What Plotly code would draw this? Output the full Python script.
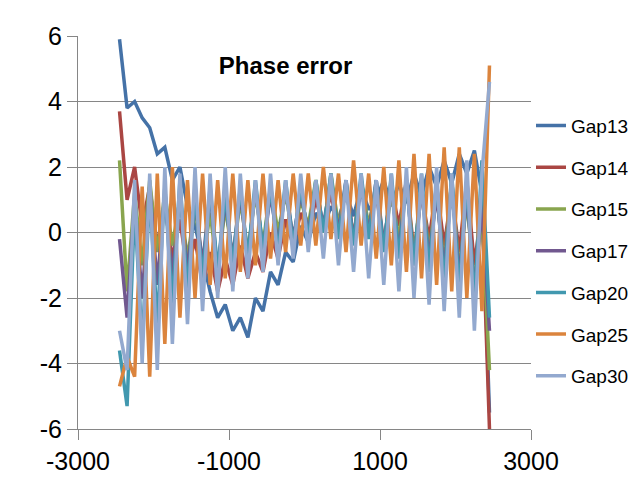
import plotly.graph_objects as go

x = [-2450 + 100 * i for i in range(50)]

gap13 = [5.9, 3.8, 4.0, 3.5, 3.2, 2.4, 2.6, 1.6, 2.0, 0.8, 0.2, -0.8, -1.8, -2.6, -2.2, -3.0, -2.6, -3.2, -2.0, -2.4,
         -1.2, -1.6, -0.6, -0.9, 0.2, -0.3, 0.6, 0.1, 0.8, 0.4, 1.2, 0.5, 1.4, 0.7, 1.0, 1.6, 0.8, 1.5, 0.9, 1.8,
         1.1, 2.0, 1.4, 2.2, 1.5, 2.4, 1.8, 2.5, 1.2, -5.5]
gap14 = [3.7, 1.0, 2.0, 0.2, 1.4, -0.4, 0.8, -0.8, 0.4, -1.2, -0.2, -1.6, -0.6, -1.8, -0.8, -1.6, -0.4, -1.4, -0.6, -1.2,
         0.0, -0.8, 0.4, -0.4, 0.6, 0.0, 1.0, 0.2, 1.2, 0.0, 1.4, -0.2, 1.6, 0.0, 1.2, -0.4, 1.4, 0.2, 1.6, -0.6,
         1.2, -0.2, 1.4, -0.4, 1.2, -0.6, 1.6, -1.0, 0.8, -6.0]
gap15 = [2.2, -1.8, 1.2, -1.0, 1.6, -0.6, 1.2, -0.4, 1.0, -0.8, 0.8, -1.0, 0.6, -1.2, 0.8, -0.8, 1.0, -0.6, 1.2, -0.4,
         1.4, 0.0, 1.2, -0.2, 1.0, 0.2, 1.6, 0.0, 1.8, 0.2, 1.4, -0.2, 1.6, 0.2, 1.4, -0.4, 1.2, -0.2, 1.6, -0.8,
         1.4, -0.6, 1.2, -1.0, 1.6, -1.2, 1.0, -1.6, 0.6, -4.2]
gap17 = [-0.2, -2.6, 1.0, -2.0, 1.4, -1.6, 1.2, -1.4, 1.2, -1.2, 1.0, -1.0, 1.2, -1.2, 1.0, -0.8, 1.2, -0.8, 1.4, -0.6,
         1.2, -0.4, 1.4, -0.2, 1.2, 0.0, 1.4, 0.2, 1.6, 0.0, 1.6, -0.2, 1.4, 0.0, 1.6, -0.4, 1.4, -0.6, 1.6, -1.0,
         1.4, -0.8, 1.2, -1.2, 1.6, -1.4, 1.2, -1.8, 0.8, -3.0]
gap20 = [-3.6, -5.3, 0.8, -3.4, 1.2, -2.8, 1.4, -2.2, 1.6, -1.8, 1.2, -1.4, 1.4, -1.2, 1.2, -1.0, 1.4, -0.8, 1.6, -0.6,
         1.4, -0.6, 1.6, -0.4, 1.4, -0.2, 1.6, 0.0, 1.8, -0.2, 1.6, -0.4, 1.8, -0.2, 1.6, -0.6, 1.8, -0.8, 1.6, -1.0,
         1.8, -1.2, 1.6, -1.6, 1.8, -1.8, 1.6, -2.2, 2.2, -2.6]
gap25 = [-4.7, -3.8, -4.4, 1.4, -4.4, 1.8, -3.4, 2.0, -2.6, 1.6, -2.0, 1.8, -1.6, 1.6, -1.4, 1.8, -1.2, 1.6, -1.0, 1.8,
         -0.8, 1.6, -0.6, 1.8, -0.4, 1.8, -0.4, 2.0, -0.2, 1.8, -0.6, 2.2, -0.4, 1.8, -0.8, 2.0, -1.0, 2.2, -1.2, 2.4,
         -1.4, 2.4, -1.6, 2.6, -1.8, 2.6, -2.0, 2.4, -2.4, 5.1]
gap30 = [-3.0, -4.2, 1.6, -4.0, 1.8, -4.2, 2.0, -3.4, 1.8, -2.8, 2.0, -2.4, 1.8, -2.0, 2.0, -1.8, 1.8, -1.4, 1.6, -1.2,
         1.8, -1.0, 1.6, -0.8, 1.8, -0.6, 1.6, -0.8, 1.8, -1.0, 1.6, -1.2, 1.8, -1.4, 1.6, -1.6, 1.8, -1.8, 2.0, -2.0,
         1.8, -2.2, 2.0, -2.4, 1.8, -2.6, 2.2, -3.0, 1.8, 4.6]

x_ticks = [-3000, -1000, 1000, 3000]
x_tick_text = ["-3000", "-1000", "1000", "3000"]
y_ticks = [-6, -4, -2, 0, 2, 4, 6]
y_tick_text = ["-6", "-4", "-2", "0", "2", "4", "6"]

series = [("Gap13", gap13, "#4572A7"), ("Gap14", gap14, "#AA4643"), ("Gap15", gap15, "#89A54E"),
          ("Gap17", gap17, "#71588F"), ("Gap20", gap20, "#4198AF"), ("Gap25", gap25, "#DB843D"),
          ("Gap30", gap30, "#93A9CF")]

fig = go.Figure()
for name, ys, col in series:
    fig.add_trace(go.Scatter(x=x, y=ys, mode="lines", name=name, legendgroup=name,
                             line=dict(color=col, width=3.5)))

fig.update_layout(
    width=638, height=485, paper_bgcolor="white", plot_bgcolor="white",
    margin=dict(l=70, r=113, t=28, b=64),
    font=dict(family="Liberation Sans", size=25, color="black"),
    title=dict(text="<b>Phase error</b>", x=0.435, xanchor="center", y=0.882, yanchor="middle",
               font=dict(size=24)),
    legend=dict(x=1.0, y=0.82, yanchor="top", xanchor="left", font=dict(size=19),
                tracegroupgap=14, bgcolor="rgba(0,0,0,0)"),
    xaxis=dict(range=[-3000, 3000], tickvals=x_ticks, ticktext=x_tick_text, showgrid=False, zeroline=False,
               showline=True, linecolor="#868686", ticks="outside", ticklen=10, tickcolor="#868686"),
    yaxis=dict(range=[-6, 6], tickvals=y_ticks, ticktext=y_tick_text, showgrid=True, gridcolor="#868686",
               zeroline=False, showline=True, linecolor="#868686", ticks="outside", ticklen=10,
               tickcolor="#868686"),
)
fig.write_html("out.html")
